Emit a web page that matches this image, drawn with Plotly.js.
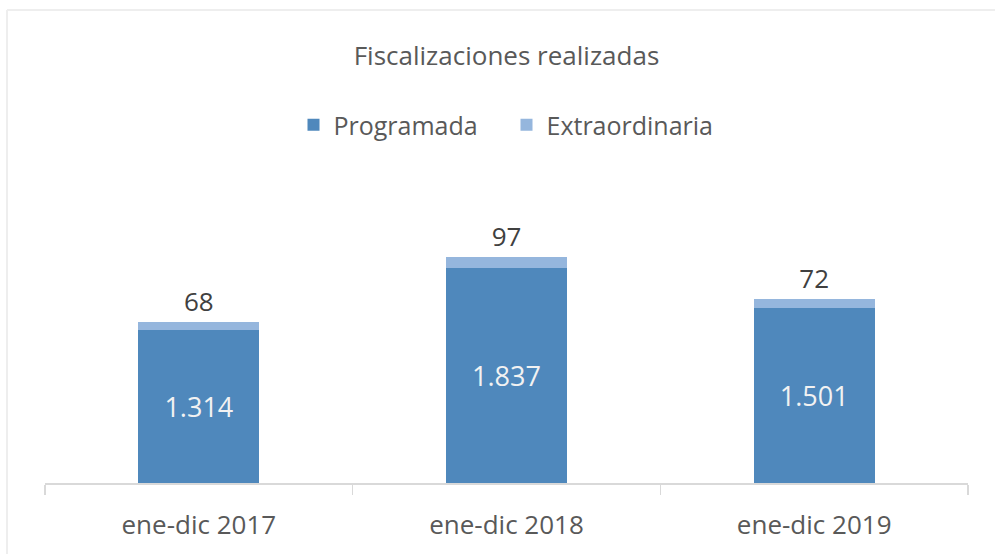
<!DOCTYPE html>
<html>
<head>
<meta charset="utf-8">
<script src="https://cdn.plot.ly/plotly-3.0.1.min.js"></script>
<style>
  html, body { margin: 0; padding: 0; background: #ffffff; }
  #chart { width: 995px; height: 554px; }
</style>
</head>
<body>
<div id="chart"></div>
<script>
const categories = ['ene-dic 2017', 'ene-dic 2018', 'ene-dic 2019'];
const programada = [1314, 1837, 1501];
const extraordinaria = [68, 97, 72];
const programadaLabels = ['1.314', '1.837', '1.501'];
const extraordinariaLabels = ['68', '97', '72'];

const FONT = 'Open Sans, Noto Sans, sans-serif';

const traces = [
  {
    type: 'bar',
    name: 'Programada',
    x: categories,
    y: programada,
    text: programadaLabels,
    textposition: 'inside',
    insidetextanchor: 'middle',
    textangle: 0,
    insidetextfont: { family: FONT, size: 27, color: '#f2f2f2' },
    marker: { color: '#4f88bc' },
    hoverinfo: 'none'
  },
  {
    type: 'bar',
    name: 'Extraordinaria',
    x: categories,
    y: extraordinaria,
    text: extraordinariaLabels,
    textposition: 'outside',
    textangle: 0,
    outsidetextfont: { family: FONT, size: 26, color: '#404040' },
    cliponaxis: false,
    marker: { color: '#95b6dd' },
    hoverinfo: 'none'
  }
];

const layout = {
  width: 995,
  height: 554,
  barmode: 'stack',
  bargap: 0.607,
  paper_bgcolor: '#ffffff',
  plot_bgcolor: '#ffffff',
  margin: { l: 45, r: 27, t: 150, b: 71 },
  font: { family: FONT, color: '#595959' },
  title: {
    text: 'Fiscalizaciones realizadas',
    font: { family: FONT, size: 26, color: '#595959' },
    xref: 'paper', x: 0.5, xanchor: 'center',
    yref: 'container', y: 1 - 56 / 554, yanchor: 'middle'
  },
  showlegend: true,
  legend: {
    orientation: 'h',
    xref: 'paper', x: 0.5, xanchor: 'center',
    yref: 'container', y: 1 - 125 / 554, yanchor: 'middle',
    font: { family: FONT, size: 25, color: '#595959' },
    traceorder: 'normal',
    entrywidth: 168,
    entrywidthmode: 'pixels',
    bgcolor: 'rgba(0,0,0,0)'
  },
  xaxis: {
    type: 'category',
    showline: true,
    linecolor: '#d9d9d9',
    linewidth: 1.5,
    ticks: 'outside',
    tickson: 'boundaries',
    ticklen: 10,
    tickcolor: '#d9d9d9',
    tickwidth: 1.5,
    ticklabelstandoff: 18,
    showgrid: false,
    zeroline: false,
    tickfont: { family: FONT, size: 26, color: '#595959' }
  },
  yaxis: {
    range: [0, 2851],
    visible: false,
    showgrid: false,
    zeroline: false,
    fixedrange: true
  },
  shapes: [
    { type: 'line', xref: 'paper', yref: 'paper', x0: -38 / 923, x1: 1.1, y0: 1 + 140 / 333, y1: 1 + 140 / 333,
      line: { color: '#eeeeee', width: 2 } },
    { type: 'line', xref: 'paper', yref: 'paper', x0: -38 / 923, x1: -38 / 923, y0: 1 + 140 / 333, y1: -0.3,
      line: { color: '#eeeeee', width: 2 } }
  ]
};

Plotly.newPlot('chart', traces, layout, { displayModeBar: false, staticPlot: true });
</script>
</body>
</html>
